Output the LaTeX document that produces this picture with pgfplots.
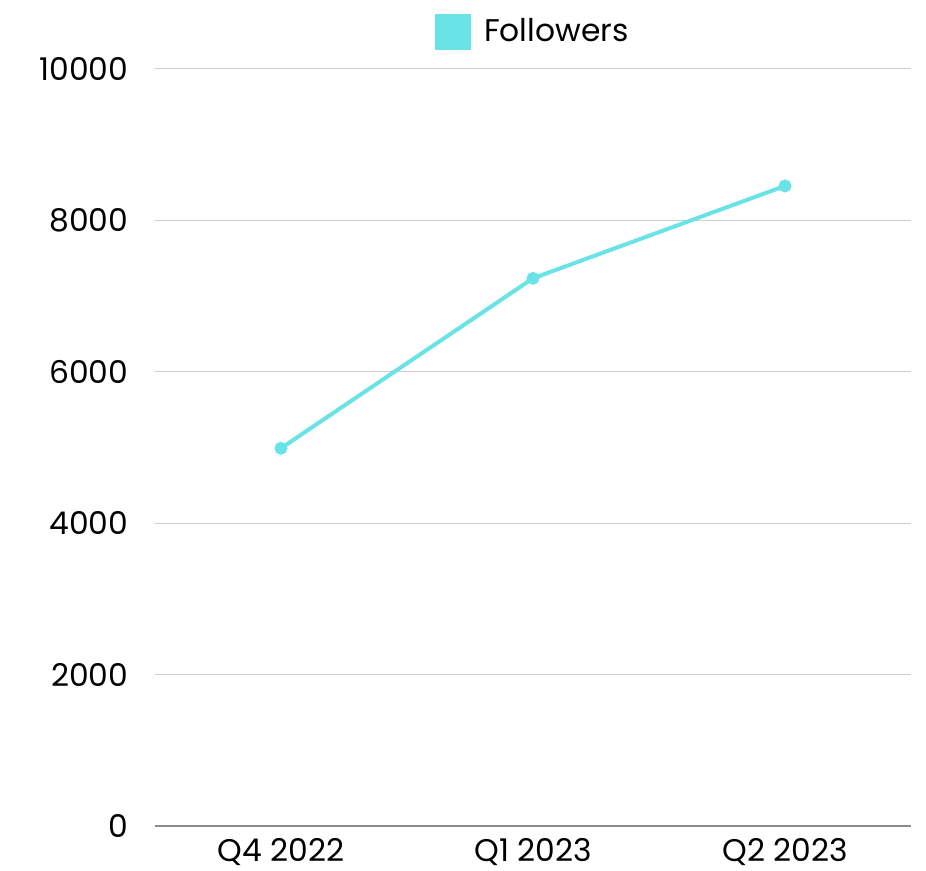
\documentclass[border=0pt]{standalone}
\usepackage{fontspec}
\setmainfont{Poppins}
\usepackage{pgfplots}
\pgfplotsset{compat=1.18}
\definecolor{cyanc}{RGB}{106,227,231}
\definecolor{gridc}{RGB}{204,204,204}
\definecolor{axisc}{RGB}{140,140,140}
\begin{document}
\fontsize{24}{28}\selectfont
\begin{tikzpicture}
\begin{axis}[
  at={(0,0)}, anchor=south west,
  scale only axis,
  width=567pt, height=567.75pt,
  xmin=-0.5, xmax=2.5,
  ymin=0, ymax=10000,
  xtick={0,1,2},
  xticklabels={Q4 2022, Q1 2023, Q2 2023},
  ytick={0,2000,4000,6000,8000,10000},
  scaled y ticks=false,
  /pgf/number format/assume math mode=true,
  /pgf/number format/1000 sep={},
  ymajorgrids,
  grid style={gridc, line width=0.75pt},
  axis lines*=left,
  y axis line style={draw=none},
  x axis line style={axisc, line width=0.9pt, -},
  major tick length=0pt,
  tick style={draw=none},
  yticklabel style={font=\fontsize{23.5}{28}\selectfont, xshift=-12pt},
  xticklabel style={font=\fontsize{23.5}{28}\selectfont, yshift=-1pt},
  legend style={at={(0.5,1)}, anchor=south, yshift=14pt, draw=none, fill=none,
    font=\fontsize{23.5}{28}\selectfont, inner sep=0pt, column sep=8pt},
  legend image code/.code={\fill[fill=cyanc,draw=none] (0pt,-13.5pt) rectangle (27pt,13.5pt);},
  legend cell align=left,
]
\addplot[cyanc, line width=3pt, mark=*, mark size=3.3pt, mark options={solid, fill=cyanc, draw=none}]
  coordinates {(0,4990) (1,7235) (2,8455)};
\addlegendentry{Followers}
\end{axis}
\pgfresetboundingbox
\path[use as bounding box] (-116.25pt,-33.75pt) rectangle (578.25pt,619.5pt);
\end{tikzpicture}
\end{document}
